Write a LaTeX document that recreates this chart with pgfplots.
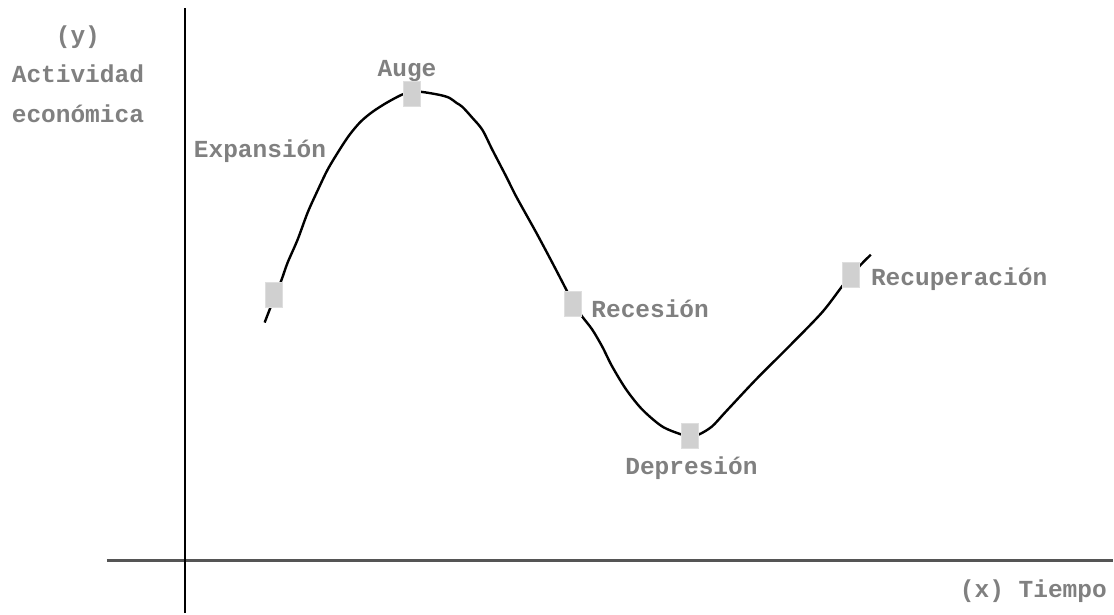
\documentclass[border=0pt]{standalone}
\usepackage{pgfplots}
\pgfplotsset{compat=1.18}
\usepackage{fontspec}
\setmainfont{Liberation Mono}
\definecolor{txt}{HTML}{808080}
\definecolor{mk}{HTML}{D0D0D0}
\definecolor{hax}{HTML}{555555}
\newcommand{\lblfont}{\fontsize{24.5}{28}\selectfont\bfseries}
\tikzset{lbl/.style={font=\lblfont, text=txt, inner sep=0pt}}
\begin{document}
\begin{tikzpicture}
\begin{axis}[
  x=1pt, y=1pt,
  xmin=-185, xmax=929, ymin=-53, ymax=561,
  hide axis, clip=false,
]
\path (axis cs:-185,-53) rectangle (axis cs:929,561);
\draw[line width=3pt, hax] (axis cs:-78,0) -- (axis cs:929,0);
\draw[line width=1.8pt, black] (axis cs:0,-53) -- (axis cs:0,553);
\addplot[black, line width=2.4pt, smooth, tension=0.5, no marks] coordinates {
(80,238) (85,251) (91,266) (97,281) (103,298) (113,321) (123,348) (132,368)
(143,391) (155,411) (165,426) (176,439) (188,449) (202,458) (217,466) (227,469)
(237,469) (255,466) (265,463) (272,458) (278,454) (288,443) (298,431) (308,411)
(322,384) (332,364) (352,328) (368,298) (382,271) (389,257) (398,244) (408,231)
(418,214) (428,194) (442,171) (458,151) (478,134) (497,126) (505,124) (515,126)
(528,134) (542,149) (572,181) (605,214) (638,248) (658,274) (667,285) (677,296)
(687,306)
};
\addplot[only marks, mark=square*, mark size=8.5pt,
  mark options={fill=mk, draw=mk!70!white, line width=0.6pt, yscale=1.47}] coordinates {
(89.5,266) (227,467.5) (389,256.5) (505.5,124.5) (667,285.5)
};
\node[lbl, anchor=base] at (axis cs:-107,517) {(y)};
\node[lbl, anchor=base] at (axis cs:-107,478) {Actividad};
\node[lbl, anchor=base] at (axis cs:-107,438) {económica};
\node[lbl, anchor=base west] at (axis cs:9,403) {Expansión};
\node[lbl, anchor=base west] at (axis cs:193,484) {Auge};
\node[lbl, anchor=base west] at (axis cs:407,243) {Recesión};
\node[lbl, anchor=base west] at (axis cs:441,86) {Depresión};
\node[lbl, anchor=base west] at (axis cs:687,275) {Recuperación};
\node[lbl, anchor=base west] at (axis cs:776,-37) {(x) Tiempo};
\end{axis}
\end{tikzpicture}
\end{document}
